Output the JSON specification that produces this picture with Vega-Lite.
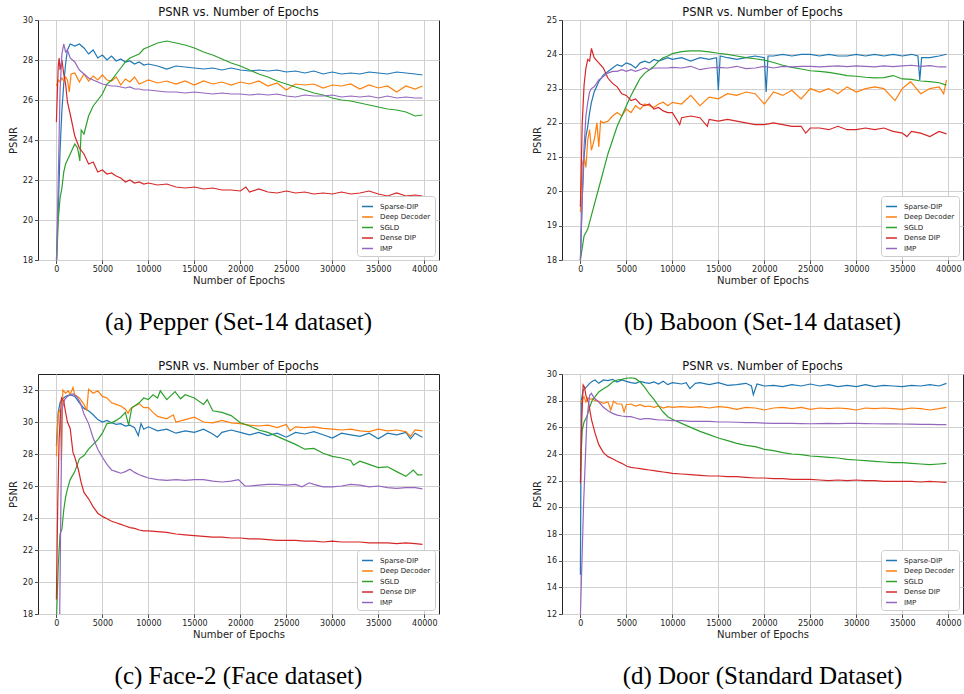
{
"$schema":"https://vega.github.io/schema/vega-lite/v6.json",
"padding":{"left":7,"top":6,"right":0,"bottom":0},
"bounds":"flush",
"columns":2,
"spacing":{"row":47,"column":123},
"resolve":{"legend":{"color":"independent"}},
"datasets":{
"pepper":[
{"method":"Sparse-DIP","epoch":0,"psnr":18},{"method":"Sparse-DIP","epoch":200,"psnr":20.5},{"method":"Sparse-DIP","epoch":400,"psnr":23.5},{"method":"Sparse-DIP","epoch":600,"psnr":25.5},{"method":"Sparse-DIP","epoch":800,"psnr":26.8},{"method":"Sparse-DIP","epoch":1000,"psnr":27.8},{"method":"Sparse-DIP","epoch":1200,"psnr":28.5},{"method":"Sparse-DIP","epoch":1500,"psnr":28.8},{"method":"Sparse-DIP","epoch":2000,"psnr":28.7},{"method":"Sparse-DIP","epoch":2500,"psnr":28.8},{"method":"Sparse-DIP","epoch":3000,"psnr":28.6},{"method":"Sparse-DIP","epoch":3500,"psnr":28.3},{"method":"Sparse-DIP","epoch":4000,"psnr":28.5},{"method":"Sparse-DIP","epoch":4500,"psnr":28.1},{"method":"Sparse-DIP","epoch":5000,"psnr":28.25},{"method":"Sparse-DIP","epoch":5500,"psnr":28.0},{"method":"Sparse-DIP","epoch":6000,"psnr":28.2},{"method":"Sparse-DIP","epoch":6500,"psnr":27.95},{"method":"Sparse-DIP","epoch":7000,"psnr":28.05},{"method":"Sparse-DIP","epoch":7500,"psnr":27.9},{"method":"Sparse-DIP","epoch":8000,"psnr":27.95},{"method":"Sparse-DIP","epoch":8500,"psnr":27.8},{"method":"Sparse-DIP","epoch":9000,"psnr":27.9},{"method":"Sparse-DIP","epoch":9500,"psnr":27.75},{"method":"Sparse-DIP","epoch":10000,"psnr":27.8},{"method":"Sparse-DIP","epoch":11000,"psnr":27.7},{"method":"Sparse-DIP","epoch":12000,"psnr":27.55},{"method":"Sparse-DIP","epoch":13000,"psnr":27.7},{"method":"Sparse-DIP","epoch":14000,"psnr":27.65},{"method":"Sparse-DIP","epoch":15000,"psnr":27.6},{"method":"Sparse-DIP","epoch":16000,"psnr":27.55},{"method":"Sparse-DIP","epoch":17000,"psnr":27.6},{"method":"Sparse-DIP","epoch":18000,"psnr":27.5},{"method":"Sparse-DIP","epoch":19000,"psnr":27.6},{"method":"Sparse-DIP","epoch":20000,"psnr":27.5},{"method":"Sparse-DIP","epoch":21000,"psnr":27.45},{"method":"Sparse-DIP","epoch":22000,"psnr":27.5},{"method":"Sparse-DIP","epoch":23000,"psnr":27.45},{"method":"Sparse-DIP","epoch":24000,"psnr":27.5},{"method":"Sparse-DIP","epoch":25000,"psnr":27.4},{"method":"Sparse-DIP","epoch":26000,"psnr":27.45},{"method":"Sparse-DIP","epoch":27000,"psnr":27.35},{"method":"Sparse-DIP","epoch":28000,"psnr":27.45},{"method":"Sparse-DIP","epoch":29000,"psnr":27.3},{"method":"Sparse-DIP","epoch":30000,"psnr":27.4},{"method":"Sparse-DIP","epoch":31000,"psnr":27.3},{"method":"Sparse-DIP","epoch":32000,"psnr":27.35},{"method":"Sparse-DIP","epoch":33000,"psnr":27.3},{"method":"Sparse-DIP","epoch":34000,"psnr":27.4},{"method":"Sparse-DIP","epoch":35000,"psnr":27.35},{"method":"Sparse-DIP","epoch":36000,"psnr":27.3},{"method":"Sparse-DIP","epoch":37000,"psnr":27.4},{"method":"Sparse-DIP","epoch":38000,"psnr":27.35},{"method":"Sparse-DIP","epoch":39000,"psnr":27.3},{"method":"Sparse-DIP","epoch":39800,"psnr":27.25},
{"method":"Deep Decoder","epoch":0,"psnr":26.7},{"method":"Deep Decoder","epoch":200,"psnr":27.0},{"method":"Deep Decoder","epoch":400,"psnr":26.9},{"method":"Deep Decoder","epoch":600,"psnr":27.1},{"method":"Deep Decoder","epoch":800,"psnr":26.95},{"method":"Deep Decoder","epoch":1000,"psnr":27.15},{"method":"Deep Decoder","epoch":1200,"psnr":27.0},{"method":"Deep Decoder","epoch":1400,"psnr":26.4},{"method":"Deep Decoder","epoch":1600,"psnr":27.3},{"method":"Deep Decoder","epoch":2000,"psnr":27.35},{"method":"Deep Decoder","epoch":2500,"psnr":26.9},{"method":"Deep Decoder","epoch":3000,"psnr":27.3},{"method":"Deep Decoder","epoch":3500,"psnr":26.95},{"method":"Deep Decoder","epoch":4000,"psnr":27.2},{"method":"Deep Decoder","epoch":4500,"psnr":27.0},{"method":"Deep Decoder","epoch":5000,"psnr":27.25},{"method":"Deep Decoder","epoch":5500,"psnr":27.0},{"method":"Deep Decoder","epoch":6000,"psnr":26.95},{"method":"Deep Decoder","epoch":6500,"psnr":27.15},{"method":"Deep Decoder","epoch":7000,"psnr":26.75},{"method":"Deep Decoder","epoch":7500,"psnr":27.05},{"method":"Deep Decoder","epoch":8000,"psnr":26.9},{"method":"Deep Decoder","epoch":8500,"psnr":27.15},{"method":"Deep Decoder","epoch":9000,"psnr":26.8},{"method":"Deep Decoder","epoch":9500,"psnr":26.9},{"method":"Deep Decoder","epoch":10000,"psnr":27.0},{"method":"Deep Decoder","epoch":11000,"psnr":26.85},{"method":"Deep Decoder","epoch":12000,"psnr":26.95},{"method":"Deep Decoder","epoch":13000,"psnr":26.8},{"method":"Deep Decoder","epoch":14000,"psnr":26.95},{"method":"Deep Decoder","epoch":15000,"psnr":26.75},{"method":"Deep Decoder","epoch":16000,"psnr":26.95},{"method":"Deep Decoder","epoch":17000,"psnr":26.8},{"method":"Deep Decoder","epoch":18000,"psnr":26.9},{"method":"Deep Decoder","epoch":19000,"psnr":26.75},{"method":"Deep Decoder","epoch":20000,"psnr":26.9},{"method":"Deep Decoder","epoch":21000,"psnr":26.8},{"method":"Deep Decoder","epoch":22000,"psnr":26.95},{"method":"Deep Decoder","epoch":23000,"psnr":26.7},{"method":"Deep Decoder","epoch":24000,"psnr":26.85},{"method":"Deep Decoder","epoch":25000,"psnr":26.5},{"method":"Deep Decoder","epoch":26000,"psnr":26.8},{"method":"Deep Decoder","epoch":27000,"psnr":26.75},{"method":"Deep Decoder","epoch":28000,"psnr":26.8},{"method":"Deep Decoder","epoch":29000,"psnr":26.6},{"method":"Deep Decoder","epoch":30000,"psnr":26.75},{"method":"Deep Decoder","epoch":31000,"psnr":26.7},{"method":"Deep Decoder","epoch":32000,"psnr":26.8},{"method":"Deep Decoder","epoch":33000,"psnr":26.55},{"method":"Deep Decoder","epoch":34000,"psnr":26.75},{"method":"Deep Decoder","epoch":35000,"psnr":26.6},{"method":"Deep Decoder","epoch":36000,"psnr":26.7},{"method":"Deep Decoder","epoch":37000,"psnr":26.4},{"method":"Deep Decoder","epoch":38000,"psnr":26.7},{"method":"Deep Decoder","epoch":39000,"psnr":26.55},{"method":"Deep Decoder","epoch":39800,"psnr":26.7},
{"method":"SGLD","epoch":0,"psnr":17.5},{"method":"SGLD","epoch":200,"psnr":20.0},{"method":"SGLD","epoch":400,"psnr":21.1},{"method":"SGLD","epoch":600,"psnr":21.6},{"method":"SGLD","epoch":800,"psnr":22.4},{"method":"SGLD","epoch":1000,"psnr":22.8},{"method":"SGLD","epoch":1200,"psnr":23.0},{"method":"SGLD","epoch":1500,"psnr":23.3},{"method":"SGLD","epoch":2000,"psnr":23.8},{"method":"SGLD","epoch":2300,"psnr":23.6},{"method":"SGLD","epoch":2550,"psnr":22.95},{"method":"SGLD","epoch":2700,"psnr":24.5},{"method":"SGLD","epoch":3000,"psnr":24.3},{"method":"SGLD","epoch":3500,"psnr":25.2},{"method":"SGLD","epoch":4000,"psnr":25.7},{"method":"SGLD","epoch":4500,"psnr":26.0},{"method":"SGLD","epoch":5000,"psnr":26.3},{"method":"SGLD","epoch":5500,"psnr":26.8},{"method":"SGLD","epoch":6000,"psnr":27.0},{"method":"SGLD","epoch":6500,"psnr":27.3},{"method":"SGLD","epoch":7000,"psnr":27.6},{"method":"SGLD","epoch":7500,"psnr":27.9},{"method":"SGLD","epoch":8000,"psnr":28.1},{"method":"SGLD","epoch":8500,"psnr":28.2},{"method":"SGLD","epoch":9000,"psnr":28.3},{"method":"SGLD","epoch":9500,"psnr":28.55},{"method":"SGLD","epoch":10000,"psnr":28.65},{"method":"SGLD","epoch":11000,"psnr":28.85},{"method":"SGLD","epoch":12000,"psnr":28.95},{"method":"SGLD","epoch":13000,"psnr":28.85},{"method":"SGLD","epoch":14000,"psnr":28.75},{"method":"SGLD","epoch":15000,"psnr":28.6},{"method":"SGLD","epoch":16000,"psnr":28.4},{"method":"SGLD","epoch":17000,"psnr":28.25},{"method":"SGLD","epoch":18000,"psnr":28.05},{"method":"SGLD","epoch":19000,"psnr":27.85},{"method":"SGLD","epoch":20000,"psnr":27.7},{"method":"SGLD","epoch":21000,"psnr":27.5},{"method":"SGLD","epoch":22000,"psnr":27.3},{"method":"SGLD","epoch":23000,"psnr":27.15},{"method":"SGLD","epoch":24000,"psnr":26.95},{"method":"SGLD","epoch":25000,"psnr":26.8},{"method":"SGLD","epoch":26000,"psnr":26.65},{"method":"SGLD","epoch":27000,"psnr":26.5},{"method":"SGLD","epoch":28000,"psnr":26.35},{"method":"SGLD","epoch":29000,"psnr":26.25},{"method":"SGLD","epoch":30000,"psnr":26.1},{"method":"SGLD","epoch":31000,"psnr":26.0},{"method":"SGLD","epoch":32000,"psnr":25.95},{"method":"SGLD","epoch":33000,"psnr":25.85},{"method":"SGLD","epoch":34000,"psnr":25.75},{"method":"SGLD","epoch":35000,"psnr":25.65},{"method":"SGLD","epoch":36000,"psnr":25.55},{"method":"SGLD","epoch":37000,"psnr":25.5},{"method":"SGLD","epoch":38000,"psnr":25.4},{"method":"SGLD","epoch":39000,"psnr":25.2},{"method":"SGLD","epoch":39800,"psnr":25.25},
{"method":"Dense DIP","epoch":0,"psnr":24.9},{"method":"Dense DIP","epoch":200,"psnr":27.7},{"method":"Dense DIP","epoch":300,"psnr":28.1},{"method":"Dense DIP","epoch":400,"psnr":27.5},{"method":"Dense DIP","epoch":600,"psnr":28.0},{"method":"Dense DIP","epoch":800,"psnr":27.3},{"method":"Dense DIP","epoch":1000,"psnr":26.8},{"method":"Dense DIP","epoch":1200,"psnr":25.9},{"method":"Dense DIP","epoch":1500,"psnr":25.3},{"method":"Dense DIP","epoch":2000,"psnr":24.2},{"method":"Dense DIP","epoch":2500,"psnr":23.6},{"method":"Dense DIP","epoch":3000,"psnr":23.3},{"method":"Dense DIP","epoch":3500,"psnr":22.8},{"method":"Dense DIP","epoch":4000,"psnr":22.9},{"method":"Dense DIP","epoch":4500,"psnr":22.4},{"method":"Dense DIP","epoch":5000,"psnr":22.5},{"method":"Dense DIP","epoch":5500,"psnr":22.3},{"method":"Dense DIP","epoch":6000,"psnr":22.35},{"method":"Dense DIP","epoch":6500,"psnr":22.2},{"method":"Dense DIP","epoch":7000,"psnr":22.1},{"method":"Dense DIP","epoch":7500,"psnr":21.9},{"method":"Dense DIP","epoch":8000,"psnr":22.0},{"method":"Dense DIP","epoch":8500,"psnr":21.85},{"method":"Dense DIP","epoch":9000,"psnr":21.9},{"method":"Dense DIP","epoch":9500,"psnr":21.8},{"method":"Dense DIP","epoch":10000,"psnr":21.85},{"method":"Dense DIP","epoch":11000,"psnr":21.75},{"method":"Dense DIP","epoch":12000,"psnr":21.8},{"method":"Dense DIP","epoch":13000,"psnr":21.65},{"method":"Dense DIP","epoch":14000,"psnr":21.6},{"method":"Dense DIP","epoch":15000,"psnr":21.65},{"method":"Dense DIP","epoch":16000,"psnr":21.55},{"method":"Dense DIP","epoch":17000,"psnr":21.6},{"method":"Dense DIP","epoch":18000,"psnr":21.5},{"method":"Dense DIP","epoch":19000,"psnr":21.5},{"method":"Dense DIP","epoch":20000,"psnr":21.45},{"method":"Dense DIP","epoch":20600,"psnr":21.65},{"method":"Dense DIP","epoch":21000,"psnr":21.4},{"method":"Dense DIP","epoch":22000,"psnr":21.55},{"method":"Dense DIP","epoch":23000,"psnr":21.4},{"method":"Dense DIP","epoch":24000,"psnr":21.35},{"method":"Dense DIP","epoch":25000,"psnr":21.45},{"method":"Dense DIP","epoch":26000,"psnr":21.35},{"method":"Dense DIP","epoch":27000,"psnr":21.4},{"method":"Dense DIP","epoch":28000,"psnr":21.3},{"method":"Dense DIP","epoch":29000,"psnr":21.35},{"method":"Dense DIP","epoch":30000,"psnr":21.3},{"method":"Dense DIP","epoch":31000,"psnr":21.4},{"method":"Dense DIP","epoch":32000,"psnr":21.3},{"method":"Dense DIP","epoch":33000,"psnr":21.35},{"method":"Dense DIP","epoch":34000,"psnr":21.45},{"method":"Dense DIP","epoch":35000,"psnr":21.3},{"method":"Dense DIP","epoch":36000,"psnr":21.2},{"method":"Dense DIP","epoch":37000,"psnr":21.35},{"method":"Dense DIP","epoch":38000,"psnr":21.2},{"method":"Dense DIP","epoch":39000,"psnr":21.25},{"method":"Dense DIP","epoch":39800,"psnr":21.2},
{"method":"IMP","epoch":0,"psnr":17.5},{"method":"IMP","epoch":200,"psnr":22.0},{"method":"IMP","epoch":400,"psnr":26.5},{"method":"IMP","epoch":600,"psnr":28.3},{"method":"IMP","epoch":800,"psnr":28.8},{"method":"IMP","epoch":1000,"psnr":28.4},{"method":"IMP","epoch":1200,"psnr":28.5},{"method":"IMP","epoch":1500,"psnr":28.1},{"method":"IMP","epoch":2000,"psnr":27.9},{"method":"IMP","epoch":2500,"psnr":27.5},{"method":"IMP","epoch":3000,"psnr":27.3},{"method":"IMP","epoch":3500,"psnr":27.1},{"method":"IMP","epoch":4000,"psnr":27.0},{"method":"IMP","epoch":4500,"psnr":26.9},{"method":"IMP","epoch":5000,"psnr":26.8},{"method":"IMP","epoch":5500,"psnr":26.75},{"method":"IMP","epoch":6000,"psnr":26.7},{"method":"IMP","epoch":6500,"psnr":26.7},{"method":"IMP","epoch":7000,"psnr":26.65},{"method":"IMP","epoch":7500,"psnr":26.6},{"method":"IMP","epoch":8000,"psnr":26.65},{"method":"IMP","epoch":8500,"psnr":26.55},{"method":"IMP","epoch":9000,"psnr":26.55},{"method":"IMP","epoch":9500,"psnr":26.5},{"method":"IMP","epoch":10000,"psnr":26.5},{"method":"IMP","epoch":11000,"psnr":26.45},{"method":"IMP","epoch":12000,"psnr":26.4},{"method":"IMP","epoch":13000,"psnr":26.4},{"method":"IMP","epoch":14000,"psnr":26.35},{"method":"IMP","epoch":15000,"psnr":26.4},{"method":"IMP","epoch":16000,"psnr":26.35},{"method":"IMP","epoch":17000,"psnr":26.3},{"method":"IMP","epoch":18000,"psnr":26.35},{"method":"IMP","epoch":19000,"psnr":26.3},{"method":"IMP","epoch":20000,"psnr":26.3},{"method":"IMP","epoch":21000,"psnr":26.25},{"method":"IMP","epoch":22000,"psnr":26.3},{"method":"IMP","epoch":23000,"psnr":26.25},{"method":"IMP","epoch":24000,"psnr":26.3},{"method":"IMP","epoch":25000,"psnr":26.2},{"method":"IMP","epoch":26000,"psnr":26.15},{"method":"IMP","epoch":27000,"psnr":26.25},{"method":"IMP","epoch":28000,"psnr":26.2},{"method":"IMP","epoch":29000,"psnr":26.2},{"method":"IMP","epoch":30000,"psnr":26.25},{"method":"IMP","epoch":31000,"psnr":26.15},{"method":"IMP","epoch":32000,"psnr":26.2},{"method":"IMP","epoch":33000,"psnr":26.15},{"method":"IMP","epoch":34000,"psnr":26.2},{"method":"IMP","epoch":35000,"psnr":26.1},{"method":"IMP","epoch":36000,"psnr":26.2},{"method":"IMP","epoch":37000,"psnr":26.1},{"method":"IMP","epoch":38000,"psnr":26.15},{"method":"IMP","epoch":39000,"psnr":26.1},{"method":"IMP","epoch":39800,"psnr":26.1}
],
"baboon":[
{"method":"Sparse-DIP","epoch":0,"psnr":18.0},{"method":"Sparse-DIP","epoch":200,"psnr":19.8},{"method":"Sparse-DIP","epoch":400,"psnr":21.0},{"method":"Sparse-DIP","epoch":600,"psnr":21.6},{"method":"Sparse-DIP","epoch":800,"psnr":21.9},{"method":"Sparse-DIP","epoch":1000,"psnr":22.3},{"method":"Sparse-DIP","epoch":1200,"psnr":22.6},{"method":"Sparse-DIP","epoch":1500,"psnr":22.9},{"method":"Sparse-DIP","epoch":2000,"psnr":23.2},{"method":"Sparse-DIP","epoch":2500,"psnr":23.4},{"method":"Sparse-DIP","epoch":3000,"psnr":23.5},{"method":"Sparse-DIP","epoch":3500,"psnr":23.6},{"method":"Sparse-DIP","epoch":4000,"psnr":23.7},{"method":"Sparse-DIP","epoch":4500,"psnr":23.65},{"method":"Sparse-DIP","epoch":5000,"psnr":23.75},{"method":"Sparse-DIP","epoch":5500,"psnr":23.7},{"method":"Sparse-DIP","epoch":6000,"psnr":23.6},{"method":"Sparse-DIP","epoch":6500,"psnr":23.75},{"method":"Sparse-DIP","epoch":7000,"psnr":23.8},{"method":"Sparse-DIP","epoch":7500,"psnr":23.75},{"method":"Sparse-DIP","epoch":8000,"psnr":23.85},{"method":"Sparse-DIP","epoch":8500,"psnr":23.8},{"method":"Sparse-DIP","epoch":9000,"psnr":23.85},{"method":"Sparse-DIP","epoch":9500,"psnr":23.9},{"method":"Sparse-DIP","epoch":10000,"psnr":23.85},{"method":"Sparse-DIP","epoch":11000,"psnr":23.9},{"method":"Sparse-DIP","epoch":12000,"psnr":23.8},{"method":"Sparse-DIP","epoch":13000,"psnr":23.9},{"method":"Sparse-DIP","epoch":14000,"psnr":23.85},{"method":"Sparse-DIP","epoch":14800,"psnr":23.9},{"method":"Sparse-DIP","epoch":15000,"psnr":22.95},{"method":"Sparse-DIP","epoch":15200,"psnr":23.95},{"method":"Sparse-DIP","epoch":16000,"psnr":23.9},{"method":"Sparse-DIP","epoch":17000,"psnr":23.85},{"method":"Sparse-DIP","epoch":18000,"psnr":23.9},{"method":"Sparse-DIP","epoch":19000,"psnr":23.95},{"method":"Sparse-DIP","epoch":20000,"psnr":23.9},{"method":"Sparse-DIP","epoch":20200,"psnr":22.9},{"method":"Sparse-DIP","epoch":20400,"psnr":23.95},{"method":"Sparse-DIP","epoch":21000,"psnr":23.95},{"method":"Sparse-DIP","epoch":22000,"psnr":24.0},{"method":"Sparse-DIP","epoch":23000,"psnr":23.95},{"method":"Sparse-DIP","epoch":24000,"psnr":24.0},{"method":"Sparse-DIP","epoch":25000,"psnr":24.0},{"method":"Sparse-DIP","epoch":26000,"psnr":23.95},{"method":"Sparse-DIP","epoch":27000,"psnr":24.0},{"method":"Sparse-DIP","epoch":28000,"psnr":23.95},{"method":"Sparse-DIP","epoch":29000,"psnr":23.95},{"method":"Sparse-DIP","epoch":30000,"psnr":24.0},{"method":"Sparse-DIP","epoch":31000,"psnr":23.95},{"method":"Sparse-DIP","epoch":32000,"psnr":24.0},{"method":"Sparse-DIP","epoch":33000,"psnr":23.95},{"method":"Sparse-DIP","epoch":34000,"psnr":24.0},{"method":"Sparse-DIP","epoch":35000,"psnr":23.95},{"method":"Sparse-DIP","epoch":36000,"psnr":24.0},{"method":"Sparse-DIP","epoch":36700,"psnr":23.95},{"method":"Sparse-DIP","epoch":36900,"psnr":23.25},{"method":"Sparse-DIP","epoch":37100,"psnr":23.9},{"method":"Sparse-DIP","epoch":38000,"psnr":23.9},{"method":"Sparse-DIP","epoch":39000,"psnr":23.95},{"method":"Sparse-DIP","epoch":39800,"psnr":24.0},
{"method":"Deep Decoder","epoch":0,"psnr":19.4},{"method":"Deep Decoder","epoch":200,"psnr":20.8},{"method":"Deep Decoder","epoch":400,"psnr":21.0},{"method":"Deep Decoder","epoch":600,"psnr":20.7},{"method":"Deep Decoder","epoch":800,"psnr":21.5},{"method":"Deep Decoder","epoch":1000,"psnr":21.8},{"method":"Deep Decoder","epoch":1200,"psnr":21.2},{"method":"Deep Decoder","epoch":1500,"psnr":21.5},{"method":"Deep Decoder","epoch":1800,"psnr":22.0},{"method":"Deep Decoder","epoch":2000,"psnr":21.3},{"method":"Deep Decoder","epoch":2200,"psnr":22.05},{"method":"Deep Decoder","epoch":2500,"psnr":22.0},{"method":"Deep Decoder","epoch":3000,"psnr":22.05},{"method":"Deep Decoder","epoch":3500,"psnr":22.2},{"method":"Deep Decoder","epoch":4000,"psnr":22.3},{"method":"Deep Decoder","epoch":4500,"psnr":22.2},{"method":"Deep Decoder","epoch":5000,"psnr":22.4},{"method":"Deep Decoder","epoch":5500,"psnr":22.3},{"method":"Deep Decoder","epoch":6000,"psnr":22.5},{"method":"Deep Decoder","epoch":6500,"psnr":22.4},{"method":"Deep Decoder","epoch":7000,"psnr":22.55},{"method":"Deep Decoder","epoch":7500,"psnr":22.5},{"method":"Deep Decoder","epoch":8000,"psnr":22.45},{"method":"Deep Decoder","epoch":8500,"psnr":22.55},{"method":"Deep Decoder","epoch":9000,"psnr":22.6},{"method":"Deep Decoder","epoch":9500,"psnr":22.5},{"method":"Deep Decoder","epoch":10000,"psnr":22.6},{"method":"Deep Decoder","epoch":11000,"psnr":22.55},{"method":"Deep Decoder","epoch":12000,"psnr":22.8},{"method":"Deep Decoder","epoch":13000,"psnr":22.5},{"method":"Deep Decoder","epoch":14000,"psnr":22.75},{"method":"Deep Decoder","epoch":15000,"psnr":22.7},{"method":"Deep Decoder","epoch":16000,"psnr":22.85},{"method":"Deep Decoder","epoch":17000,"psnr":22.8},{"method":"Deep Decoder","epoch":18000,"psnr":22.9},{"method":"Deep Decoder","epoch":19000,"psnr":22.85},{"method":"Deep Decoder","epoch":20000,"psnr":22.55},{"method":"Deep Decoder","epoch":21000,"psnr":22.9},{"method":"Deep Decoder","epoch":22000,"psnr":22.8},{"method":"Deep Decoder","epoch":23000,"psnr":22.95},{"method":"Deep Decoder","epoch":24000,"psnr":22.7},{"method":"Deep Decoder","epoch":25000,"psnr":23.0},{"method":"Deep Decoder","epoch":26000,"psnr":22.9},{"method":"Deep Decoder","epoch":27000,"psnr":23.0},{"method":"Deep Decoder","epoch":28000,"psnr":22.85},{"method":"Deep Decoder","epoch":29000,"psnr":23.05},{"method":"Deep Decoder","epoch":30000,"psnr":22.9},{"method":"Deep Decoder","epoch":31000,"psnr":23.0},{"method":"Deep Decoder","epoch":32000,"psnr":23.05},{"method":"Deep Decoder","epoch":33000,"psnr":23.0},{"method":"Deep Decoder","epoch":34200,"psnr":22.65},{"method":"Deep Decoder","epoch":35000,"psnr":23.0},{"method":"Deep Decoder","epoch":35900,"psnr":23.2},{"method":"Deep Decoder","epoch":37000,"psnr":22.85},{"method":"Deep Decoder","epoch":38000,"psnr":23.0},{"method":"Deep Decoder","epoch":39000,"psnr":23.05},{"method":"Deep Decoder","epoch":39500,"psnr":22.85},{"method":"Deep Decoder","epoch":39800,"psnr":23.25},
{"method":"SGLD","epoch":0,"psnr":18.0},{"method":"SGLD","epoch":400,"psnr":18.7},{"method":"SGLD","epoch":800,"psnr":18.9},{"method":"SGLD","epoch":1200,"psnr":19.3},{"method":"SGLD","epoch":1600,"psnr":19.7},{"method":"SGLD","epoch":2000,"psnr":20.1},{"method":"SGLD","epoch":2500,"psnr":20.6},{"method":"SGLD","epoch":3000,"psnr":21.1},{"method":"SGLD","epoch":3500,"psnr":21.5},{"method":"SGLD","epoch":4000,"psnr":21.9},{"method":"SGLD","epoch":4500,"psnr":22.2},{"method":"SGLD","epoch":5000,"psnr":22.5},{"method":"SGLD","epoch":5500,"psnr":22.8},{"method":"SGLD","epoch":6000,"psnr":23.05},{"method":"SGLD","epoch":6500,"psnr":23.3},{"method":"SGLD","epoch":7000,"psnr":23.45},{"method":"SGLD","epoch":7500,"psnr":23.55},{"method":"SGLD","epoch":8000,"psnr":23.65},{"method":"SGLD","epoch":8500,"psnr":23.8},{"method":"SGLD","epoch":9000,"psnr":23.9},{"method":"SGLD","epoch":9500,"psnr":23.95},{"method":"SGLD","epoch":10000,"psnr":24.02},{"method":"SGLD","epoch":11000,"psnr":24.08},{"method":"SGLD","epoch":12000,"psnr":24.1},{"method":"SGLD","epoch":13000,"psnr":24.1},{"method":"SGLD","epoch":14000,"psnr":24.07},{"method":"SGLD","epoch":15000,"psnr":24.03},{"method":"SGLD","epoch":16000,"psnr":24.0},{"method":"SGLD","epoch":17000,"psnr":23.95},{"method":"SGLD","epoch":18000,"psnr":23.9},{"method":"SGLD","epoch":19000,"psnr":23.87},{"method":"SGLD","epoch":20000,"psnr":23.83},{"method":"SGLD","epoch":21000,"psnr":23.76},{"method":"SGLD","epoch":22000,"psnr":23.68},{"method":"SGLD","epoch":23000,"psnr":23.62},{"method":"SGLD","epoch":24000,"psnr":23.57},{"method":"SGLD","epoch":25000,"psnr":23.52},{"method":"SGLD","epoch":26000,"psnr":23.5},{"method":"SGLD","epoch":27000,"psnr":23.47},{"method":"SGLD","epoch":28000,"psnr":23.43},{"method":"SGLD","epoch":29000,"psnr":23.38},{"method":"SGLD","epoch":30000,"psnr":23.36},{"method":"SGLD","epoch":31000,"psnr":23.33},{"method":"SGLD","epoch":32000,"psnr":23.31},{"method":"SGLD","epoch":33000,"psnr":23.32},{"method":"SGLD","epoch":34000,"psnr":23.38},{"method":"SGLD","epoch":35000,"psnr":23.28},{"method":"SGLD","epoch":36000,"psnr":23.27},{"method":"SGLD","epoch":37000,"psnr":23.22},{"method":"SGLD","epoch":38000,"psnr":23.2},{"method":"SGLD","epoch":39000,"psnr":23.17},{"method":"SGLD","epoch":39800,"psnr":23.1},
{"method":"Dense DIP","epoch":0,"psnr":19.55},{"method":"Dense DIP","epoch":200,"psnr":22.0},{"method":"Dense DIP","epoch":400,"psnr":23.1},{"method":"Dense DIP","epoch":600,"psnr":23.6},{"method":"Dense DIP","epoch":800,"psnr":23.85},{"method":"Dense DIP","epoch":1000,"psnr":23.8},{"method":"Dense DIP","epoch":1200,"psnr":24.17},{"method":"Dense DIP","epoch":1500,"psnr":23.9},{"method":"Dense DIP","epoch":2000,"psnr":23.75},{"method":"Dense DIP","epoch":2500,"psnr":23.6},{"method":"Dense DIP","epoch":3000,"psnr":23.3},{"method":"Dense DIP","epoch":3500,"psnr":23.15},{"method":"Dense DIP","epoch":4000,"psnr":23.05},{"method":"Dense DIP","epoch":4500,"psnr":22.85},{"method":"Dense DIP","epoch":5000,"psnr":22.8},{"method":"Dense DIP","epoch":5500,"psnr":22.65},{"method":"Dense DIP","epoch":6000,"psnr":22.7},{"method":"Dense DIP","epoch":6500,"psnr":22.55},{"method":"Dense DIP","epoch":7000,"psnr":22.5},{"method":"Dense DIP","epoch":7500,"psnr":22.55},{"method":"Dense DIP","epoch":8000,"psnr":22.4},{"method":"Dense DIP","epoch":8500,"psnr":22.45},{"method":"Dense DIP","epoch":9000,"psnr":22.35},{"method":"Dense DIP","epoch":9500,"psnr":22.3},{"method":"Dense DIP","epoch":10000,"psnr":22.3},{"method":"Dense DIP","epoch":10800,"psnr":21.95},{"method":"Dense DIP","epoch":11000,"psnr":22.15},{"method":"Dense DIP","epoch":12000,"psnr":22.2},{"method":"Dense DIP","epoch":13000,"psnr":22.15},{"method":"Dense DIP","epoch":13800,"psnr":21.9},{"method":"Dense DIP","epoch":14000,"psnr":22.1},{"method":"Dense DIP","epoch":15000,"psnr":22.05},{"method":"Dense DIP","epoch":16000,"psnr":22.1},{"method":"Dense DIP","epoch":17000,"psnr":22.05},{"method":"Dense DIP","epoch":18000,"psnr":22.0},{"method":"Dense DIP","epoch":19000,"psnr":21.95},{"method":"Dense DIP","epoch":20000,"psnr":21.95},{"method":"Dense DIP","epoch":21000,"psnr":22.0},{"method":"Dense DIP","epoch":22000,"psnr":21.95},{"method":"Dense DIP","epoch":23000,"psnr":21.9},{"method":"Dense DIP","epoch":24000,"psnr":21.9},{"method":"Dense DIP","epoch":24500,"psnr":21.7},{"method":"Dense DIP","epoch":25000,"psnr":21.85},{"method":"Dense DIP","epoch":26000,"psnr":21.85},{"method":"Dense DIP","epoch":27000,"psnr":21.8},{"method":"Dense DIP","epoch":28000,"psnr":21.9},{"method":"Dense DIP","epoch":29000,"psnr":21.8},{"method":"Dense DIP","epoch":30000,"psnr":21.8},{"method":"Dense DIP","epoch":31000,"psnr":21.85},{"method":"Dense DIP","epoch":32000,"psnr":21.8},{"method":"Dense DIP","epoch":33000,"psnr":21.85},{"method":"Dense DIP","epoch":34000,"psnr":21.75},{"method":"Dense DIP","epoch":35000,"psnr":21.7},{"method":"Dense DIP","epoch":35500,"psnr":21.6},{"method":"Dense DIP","epoch":36000,"psnr":21.75},{"method":"Dense DIP","epoch":37000,"psnr":21.7},{"method":"Dense DIP","epoch":38000,"psnr":21.6},{"method":"Dense DIP","epoch":39000,"psnr":21.75},{"method":"Dense DIP","epoch":39800,"psnr":21.68},
{"method":"IMP","epoch":0,"psnr":18.0},{"method":"IMP","epoch":200,"psnr":19.8},{"method":"IMP","epoch":400,"psnr":21.3},{"method":"IMP","epoch":600,"psnr":22.2},{"method":"IMP","epoch":800,"psnr":22.6},{"method":"IMP","epoch":1000,"psnr":22.9},{"method":"IMP","epoch":1200,"psnr":23.0},{"method":"IMP","epoch":1500,"psnr":23.05},{"method":"IMP","epoch":2000,"psnr":23.25},{"method":"IMP","epoch":2500,"psnr":23.35},{"method":"IMP","epoch":3000,"psnr":23.45},{"method":"IMP","epoch":3500,"psnr":23.5},{"method":"IMP","epoch":4000,"psnr":23.5},{"method":"IMP","epoch":4500,"psnr":23.55},{"method":"IMP","epoch":5000,"psnr":23.5},{"method":"IMP","epoch":5500,"psnr":23.55},{"method":"IMP","epoch":6000,"psnr":23.5},{"method":"IMP","epoch":6500,"psnr":23.55},{"method":"IMP","epoch":7000,"psnr":23.6},{"method":"IMP","epoch":7500,"psnr":23.55},{"method":"IMP","epoch":8000,"psnr":23.6},{"method":"IMP","epoch":8500,"psnr":23.6},{"method":"IMP","epoch":9000,"psnr":23.6},{"method":"IMP","epoch":9500,"psnr":23.6},{"method":"IMP","epoch":10000,"psnr":23.62},{"method":"IMP","epoch":11000,"psnr":23.6},{"method":"IMP","epoch":12000,"psnr":23.65},{"method":"IMP","epoch":13000,"psnr":23.55},{"method":"IMP","epoch":14000,"psnr":23.6},{"method":"IMP","epoch":15000,"psnr":23.62},{"method":"IMP","epoch":16000,"psnr":23.6},{"method":"IMP","epoch":17000,"psnr":23.65},{"method":"IMP","epoch":18000,"psnr":23.58},{"method":"IMP","epoch":19000,"psnr":23.6},{"method":"IMP","epoch":20000,"psnr":23.65},{"method":"IMP","epoch":21000,"psnr":23.6},{"method":"IMP","epoch":22000,"psnr":23.65},{"method":"IMP","epoch":23000,"psnr":23.63},{"method":"IMP","epoch":24000,"psnr":23.65},{"method":"IMP","epoch":25000,"psnr":23.65},{"method":"IMP","epoch":26000,"psnr":23.63},{"method":"IMP","epoch":27000,"psnr":23.65},{"method":"IMP","epoch":28000,"psnr":23.66},{"method":"IMP","epoch":29000,"psnr":23.64},{"method":"IMP","epoch":30000,"psnr":23.66},{"method":"IMP","epoch":31000,"psnr":23.65},{"method":"IMP","epoch":32000,"psnr":23.63},{"method":"IMP","epoch":33000,"psnr":23.66},{"method":"IMP","epoch":34000,"psnr":23.64},{"method":"IMP","epoch":35000,"psnr":23.66},{"method":"IMP","epoch":36000,"psnr":23.68},{"method":"IMP","epoch":37000,"psnr":23.65},{"method":"IMP","epoch":38000,"psnr":23.67},{"method":"IMP","epoch":39000,"psnr":23.63},{"method":"IMP","epoch":39800,"psnr":23.63}
],
"face":[
{"method":"Sparse-DIP","epoch":0,"psnr":28.5},{"method":"Sparse-DIP","epoch":200,"psnr":30.6},{"method":"Sparse-DIP","epoch":400,"psnr":31.2},{"method":"Sparse-DIP","epoch":600,"psnr":31.4},{"method":"Sparse-DIP","epoch":800,"psnr":31.5},{"method":"Sparse-DIP","epoch":1000,"psnr":31.6},{"method":"Sparse-DIP","epoch":1200,"psnr":31.65},{"method":"Sparse-DIP","epoch":1500,"psnr":31.7},{"method":"Sparse-DIP","epoch":2000,"psnr":31.6},{"method":"Sparse-DIP","epoch":2500,"psnr":31.2},{"method":"Sparse-DIP","epoch":3000,"psnr":30.85},{"method":"Sparse-DIP","epoch":3500,"psnr":30.7},{"method":"Sparse-DIP","epoch":4000,"psnr":30.45},{"method":"Sparse-DIP","epoch":4500,"psnr":30.15},{"method":"Sparse-DIP","epoch":5000,"psnr":30.0},{"method":"Sparse-DIP","epoch":5500,"psnr":30.1},{"method":"Sparse-DIP","epoch":6000,"psnr":29.95},{"method":"Sparse-DIP","epoch":6500,"psnr":29.85},{"method":"Sparse-DIP","epoch":7000,"psnr":29.9},{"method":"Sparse-DIP","epoch":7500,"psnr":29.75},{"method":"Sparse-DIP","epoch":8000,"psnr":29.8},{"method":"Sparse-DIP","epoch":8500,"psnr":29.65},{"method":"Sparse-DIP","epoch":8900,"psnr":29.15},{"method":"Sparse-DIP","epoch":9200,"psnr":29.9},{"method":"Sparse-DIP","epoch":9500,"psnr":29.55},{"method":"Sparse-DIP","epoch":10000,"psnr":29.7},{"method":"Sparse-DIP","epoch":11000,"psnr":29.45},{"method":"Sparse-DIP","epoch":12000,"psnr":29.55},{"method":"Sparse-DIP","epoch":13000,"psnr":29.3},{"method":"Sparse-DIP","epoch":14000,"psnr":29.45},{"method":"Sparse-DIP","epoch":15000,"psnr":29.35},{"method":"Sparse-DIP","epoch":16000,"psnr":29.55},{"method":"Sparse-DIP","epoch":17000,"psnr":29.25},{"method":"Sparse-DIP","epoch":17500,"psnr":29.05},{"method":"Sparse-DIP","epoch":18000,"psnr":29.35},{"method":"Sparse-DIP","epoch":19000,"psnr":29.5},{"method":"Sparse-DIP","epoch":20000,"psnr":29.35},{"method":"Sparse-DIP","epoch":21000,"psnr":29.2},{"method":"Sparse-DIP","epoch":22000,"psnr":29.35},{"method":"Sparse-DIP","epoch":23000,"psnr":29.15},{"method":"Sparse-DIP","epoch":24000,"psnr":29.3},{"method":"Sparse-DIP","epoch":25000,"psnr":29.05},{"method":"Sparse-DIP","epoch":26000,"psnr":29.35},{"method":"Sparse-DIP","epoch":27000,"psnr":29.25},{"method":"Sparse-DIP","epoch":28000,"psnr":29.4},{"method":"Sparse-DIP","epoch":29000,"psnr":29.2},{"method":"Sparse-DIP","epoch":30000,"psnr":29.0},{"method":"Sparse-DIP","epoch":31000,"psnr":29.3},{"method":"Sparse-DIP","epoch":32000,"psnr":29.2},{"method":"Sparse-DIP","epoch":33000,"psnr":29.1},{"method":"Sparse-DIP","epoch":34000,"psnr":29.3},{"method":"Sparse-DIP","epoch":35000,"psnr":28.95},{"method":"Sparse-DIP","epoch":36000,"psnr":29.3},{"method":"Sparse-DIP","epoch":37000,"psnr":29.2},{"method":"Sparse-DIP","epoch":38000,"psnr":29.35},{"method":"Sparse-DIP","epoch":38500,"psnr":28.95},{"method":"Sparse-DIP","epoch":39000,"psnr":29.3},{"method":"Sparse-DIP","epoch":39800,"psnr":29.05},
{"method":"Deep Decoder","epoch":0,"psnr":27.85},{"method":"Deep Decoder","epoch":200,"psnr":30.55},{"method":"Deep Decoder","epoch":400,"psnr":30.8},{"method":"Deep Decoder","epoch":550,"psnr":27.6},{"method":"Deep Decoder","epoch":700,"psnr":32.0},{"method":"Deep Decoder","epoch":1000,"psnr":31.8},{"method":"Deep Decoder","epoch":1300,"psnr":31.95},{"method":"Deep Decoder","epoch":1500,"psnr":31.7},{"method":"Deep Decoder","epoch":1800,"psnr":32.15},{"method":"Deep Decoder","epoch":2000,"psnr":31.7},{"method":"Deep Decoder","epoch":2500,"psnr":31.5},{"method":"Deep Decoder","epoch":3000,"psnr":31.1},{"method":"Deep Decoder","epoch":3300,"psnr":30.7},{"method":"Deep Decoder","epoch":3500,"psnr":32.05},{"method":"Deep Decoder","epoch":4000,"psnr":31.8},{"method":"Deep Decoder","epoch":4500,"psnr":31.95},{"method":"Deep Decoder","epoch":5000,"psnr":31.6},{"method":"Deep Decoder","epoch":5500,"psnr":31.5},{"method":"Deep Decoder","epoch":6000,"psnr":31.2},{"method":"Deep Decoder","epoch":6500,"psnr":31.1},{"method":"Deep Decoder","epoch":7000,"psnr":31.0},{"method":"Deep Decoder","epoch":7500,"psnr":30.8},{"method":"Deep Decoder","epoch":7800,"psnr":30.55},{"method":"Deep Decoder","epoch":8000,"psnr":30.8},{"method":"Deep Decoder","epoch":8500,"psnr":31.0},{"method":"Deep Decoder","epoch":9000,"psnr":31.15},{"method":"Deep Decoder","epoch":9500,"psnr":30.9},{"method":"Deep Decoder","epoch":10000,"psnr":30.9},{"method":"Deep Decoder","epoch":10500,"psnr":30.6},{"method":"Deep Decoder","epoch":11000,"psnr":30.35},{"method":"Deep Decoder","epoch":12000,"psnr":30.2},{"method":"Deep Decoder","epoch":12700,"psnr":30.45},{"method":"Deep Decoder","epoch":13000,"psnr":30.0},{"method":"Deep Decoder","epoch":14000,"psnr":30.15},{"method":"Deep Decoder","epoch":15000,"psnr":30.3},{"method":"Deep Decoder","epoch":16000,"psnr":30.0},{"method":"Deep Decoder","epoch":17000,"psnr":29.95},{"method":"Deep Decoder","epoch":18000,"psnr":30.1},{"method":"Deep Decoder","epoch":19000,"psnr":29.95},{"method":"Deep Decoder","epoch":20000,"psnr":29.9},{"method":"Deep Decoder","epoch":21000,"psnr":29.8},{"method":"Deep Decoder","epoch":22000,"psnr":29.75},{"method":"Deep Decoder","epoch":23000,"psnr":29.8},{"method":"Deep Decoder","epoch":24000,"psnr":29.65},{"method":"Deep Decoder","epoch":25000,"psnr":29.85},{"method":"Deep Decoder","epoch":25400,"psnr":29.45},{"method":"Deep Decoder","epoch":26000,"psnr":29.7},{"method":"Deep Decoder","epoch":27000,"psnr":29.65},{"method":"Deep Decoder","epoch":28000,"psnr":29.7},{"method":"Deep Decoder","epoch":29000,"psnr":29.6},{"method":"Deep Decoder","epoch":30000,"psnr":29.55},{"method":"Deep Decoder","epoch":31000,"psnr":29.5},{"method":"Deep Decoder","epoch":32000,"psnr":29.55},{"method":"Deep Decoder","epoch":33000,"psnr":29.45},{"method":"Deep Decoder","epoch":34000,"psnr":29.4},{"method":"Deep Decoder","epoch":35000,"psnr":29.55},{"method":"Deep Decoder","epoch":36000,"psnr":29.45},{"method":"Deep Decoder","epoch":37000,"psnr":29.5},{"method":"Deep Decoder","epoch":38000,"psnr":29.4},{"method":"Deep Decoder","epoch":38500,"psnr":29.1},{"method":"Deep Decoder","epoch":39000,"psnr":29.5},{"method":"Deep Decoder","epoch":39800,"psnr":29.45},
{"method":"SGLD","epoch":0,"psnr":17.5},{"method":"SGLD","epoch":200,"psnr":21.0},{"method":"SGLD","epoch":400,"psnr":23.0},{"method":"SGLD","epoch":600,"psnr":23.3},{"method":"SGLD","epoch":800,"psnr":24.5},{"method":"SGLD","epoch":1000,"psnr":25.3},{"method":"SGLD","epoch":1200,"psnr":25.8},{"method":"SGLD","epoch":1500,"psnr":26.4},{"method":"SGLD","epoch":2000,"psnr":26.9},{"method":"SGLD","epoch":2500,"psnr":27.7},{"method":"SGLD","epoch":3000,"psnr":27.9},{"method":"SGLD","epoch":3500,"psnr":28.3},{"method":"SGLD","epoch":4000,"psnr":28.6},{"method":"SGLD","epoch":4500,"psnr":28.9},{"method":"SGLD","epoch":5000,"psnr":29.3},{"method":"SGLD","epoch":5500,"psnr":29.9},{"method":"SGLD","epoch":6000,"psnr":29.95},{"method":"SGLD","epoch":6500,"psnr":30.1},{"method":"SGLD","epoch":7000,"psnr":30.3},{"method":"SGLD","epoch":7500,"psnr":30.6},{"method":"SGLD","epoch":7850,"psnr":29.8},{"method":"SGLD","epoch":8200,"psnr":30.9},{"method":"SGLD","epoch":8500,"psnr":31.0},{"method":"SGLD","epoch":9000,"psnr":31.2},{"method":"SGLD","epoch":9500,"psnr":31.5},{"method":"SGLD","epoch":10000,"psnr":31.4},{"method":"SGLD","epoch":10500,"psnr":31.7},{"method":"SGLD","epoch":11000,"psnr":31.5},{"method":"SGLD","epoch":11300,"psnr":31.95},{"method":"SGLD","epoch":12000,"psnr":31.4},{"method":"SGLD","epoch":12900,"psnr":31.9},{"method":"SGLD","epoch":13500,"psnr":31.45},{"method":"SGLD","epoch":14000,"psnr":31.7},{"method":"SGLD","epoch":15000,"psnr":31.5},{"method":"SGLD","epoch":16000,"psnr":31.1},{"method":"SGLD","epoch":16400,"psnr":31.4},{"method":"SGLD","epoch":17000,"psnr":30.7},{"method":"SGLD","epoch":18000,"psnr":30.6},{"method":"SGLD","epoch":19000,"psnr":30.4},{"method":"SGLD","epoch":20000,"psnr":29.95},{"method":"SGLD","epoch":21000,"psnr":29.75},{"method":"SGLD","epoch":22000,"psnr":29.5},{"method":"SGLD","epoch":23000,"psnr":29.35},{"method":"SGLD","epoch":24000,"psnr":29.1},{"method":"SGLD","epoch":25000,"psnr":28.85},{"method":"SGLD","epoch":26000,"psnr":28.6},{"method":"SGLD","epoch":27000,"psnr":28.3},{"method":"SGLD","epoch":28000,"psnr":28.35},{"method":"SGLD","epoch":29000,"psnr":28.05},{"method":"SGLD","epoch":30000,"psnr":27.85},{"method":"SGLD","epoch":31000,"psnr":27.75},{"method":"SGLD","epoch":32000,"psnr":27.6},{"method":"SGLD","epoch":32300,"psnr":27.3},{"method":"SGLD","epoch":33000,"psnr":27.55},{"method":"SGLD","epoch":34000,"psnr":27.35},{"method":"SGLD","epoch":35000,"psnr":27.15},{"method":"SGLD","epoch":36000,"psnr":27.2},{"method":"SGLD","epoch":37000,"psnr":26.9},{"method":"SGLD","epoch":38000,"psnr":26.6},{"method":"SGLD","epoch":38800,"psnr":27.0},{"method":"SGLD","epoch":39300,"psnr":26.7},{"method":"SGLD","epoch":39800,"psnr":26.7},
{"method":"Dense DIP","epoch":0,"psnr":18.9},{"method":"Dense DIP","epoch":150,"psnr":25.0},{"method":"Dense DIP","epoch":300,"psnr":29.0},{"method":"Dense DIP","epoch":550,"psnr":31.5},{"method":"Dense DIP","epoch":800,"psnr":31.3},{"method":"Dense DIP","epoch":1000,"psnr":30.6},{"method":"Dense DIP","epoch":1200,"psnr":30.0},{"method":"Dense DIP","epoch":1500,"psnr":29.6},{"method":"Dense DIP","epoch":1800,"psnr":28.1},{"method":"Dense DIP","epoch":2000,"psnr":27.8},{"method":"Dense DIP","epoch":2400,"psnr":27.0},{"method":"Dense DIP","epoch":2700,"psnr":26.2},{"method":"Dense DIP","epoch":3000,"psnr":25.6},{"method":"Dense DIP","epoch":3500,"psnr":25.2},{"method":"Dense DIP","epoch":4000,"psnr":24.7},{"method":"Dense DIP","epoch":4500,"psnr":24.3},{"method":"Dense DIP","epoch":5000,"psnr":24.1},{"method":"Dense DIP","epoch":5500,"psnr":23.95},{"method":"Dense DIP","epoch":6000,"psnr":23.8},{"method":"Dense DIP","epoch":6500,"psnr":23.7},{"method":"Dense DIP","epoch":7000,"psnr":23.6},{"method":"Dense DIP","epoch":7500,"psnr":23.5},{"method":"Dense DIP","epoch":8000,"psnr":23.4},{"method":"Dense DIP","epoch":8500,"psnr":23.35},{"method":"Dense DIP","epoch":9000,"psnr":23.25},{"method":"Dense DIP","epoch":9500,"psnr":23.2},{"method":"Dense DIP","epoch":10000,"psnr":23.2},{"method":"Dense DIP","epoch":11000,"psnr":23.15},{"method":"Dense DIP","epoch":12000,"psnr":23.1},{"method":"Dense DIP","epoch":13000,"psnr":23.0},{"method":"Dense DIP","epoch":14000,"psnr":22.95},{"method":"Dense DIP","epoch":15000,"psnr":22.9},{"method":"Dense DIP","epoch":16000,"psnr":22.85},{"method":"Dense DIP","epoch":17000,"psnr":22.8},{"method":"Dense DIP","epoch":18000,"psnr":22.8},{"method":"Dense DIP","epoch":19000,"psnr":22.75},{"method":"Dense DIP","epoch":20000,"psnr":22.75},{"method":"Dense DIP","epoch":21000,"psnr":22.7},{"method":"Dense DIP","epoch":22000,"psnr":22.7},{"method":"Dense DIP","epoch":23000,"psnr":22.65},{"method":"Dense DIP","epoch":24000,"psnr":22.6},{"method":"Dense DIP","epoch":25000,"psnr":22.6},{"method":"Dense DIP","epoch":26000,"psnr":22.6},{"method":"Dense DIP","epoch":27000,"psnr":22.55},{"method":"Dense DIP","epoch":28000,"psnr":22.55},{"method":"Dense DIP","epoch":29000,"psnr":22.5},{"method":"Dense DIP","epoch":30000,"psnr":22.55},{"method":"Dense DIP","epoch":31000,"psnr":22.5},{"method":"Dense DIP","epoch":32000,"psnr":22.5},{"method":"Dense DIP","epoch":33000,"psnr":22.5},{"method":"Dense DIP","epoch":34000,"psnr":22.45},{"method":"Dense DIP","epoch":35000,"psnr":22.45},{"method":"Dense DIP","epoch":36000,"psnr":22.45},{"method":"Dense DIP","epoch":37000,"psnr":22.4},{"method":"Dense DIP","epoch":38000,"psnr":22.45},{"method":"Dense DIP","epoch":39000,"psnr":22.4},{"method":"Dense DIP","epoch":39800,"psnr":22.35},
{"method":"IMP","epoch":350,"psnr":17.5},{"method":"IMP","epoch":600,"psnr":30.8},{"method":"IMP","epoch":900,"psnr":31.4},{"method":"IMP","epoch":1200,"psnr":31.6},{"method":"IMP","epoch":1500,"psnr":31.7},{"method":"IMP","epoch":1800,"psnr":31.75},{"method":"IMP","epoch":2200,"psnr":31.6},{"method":"IMP","epoch":2600,"psnr":31.2},{"method":"IMP","epoch":3000,"psnr":30.5},{"method":"IMP","epoch":3500,"psnr":29.9},{"method":"IMP","epoch":4000,"psnr":29.0},{"method":"IMP","epoch":4500,"psnr":28.3},{"method":"IMP","epoch":5000,"psnr":27.8},{"method":"IMP","epoch":5500,"psnr":27.35},{"method":"IMP","epoch":6000,"psnr":27.0},{"method":"IMP","epoch":6500,"psnr":26.9},{"method":"IMP","epoch":7000,"psnr":26.8},{"method":"IMP","epoch":7500,"psnr":26.9},{"method":"IMP","epoch":8000,"psnr":27.05},{"method":"IMP","epoch":8500,"psnr":26.85},{"method":"IMP","epoch":9000,"psnr":26.7},{"method":"IMP","epoch":9500,"psnr":26.6},{"method":"IMP","epoch":10000,"psnr":26.5},{"method":"IMP","epoch":11000,"psnr":26.4},{"method":"IMP","epoch":12000,"psnr":26.35},{"method":"IMP","epoch":13000,"psnr":26.4},{"method":"IMP","epoch":14000,"psnr":26.35},{"method":"IMP","epoch":15000,"psnr":26.4},{"method":"IMP","epoch":16000,"psnr":26.4},{"method":"IMP","epoch":17000,"psnr":26.3},{"method":"IMP","epoch":18000,"psnr":26.25},{"method":"IMP","epoch":19000,"psnr":26.3},{"method":"IMP","epoch":19800,"psnr":26.4},{"method":"IMP","epoch":20500,"psnr":26.0},{"method":"IMP","epoch":21000,"psnr":26.0},{"method":"IMP","epoch":22000,"psnr":26.05},{"method":"IMP","epoch":23000,"psnr":26.1},{"method":"IMP","epoch":24000,"psnr":26.1},{"method":"IMP","epoch":25000,"psnr":26.05},{"method":"IMP","epoch":26000,"psnr":26.1},{"method":"IMP","epoch":26700,"psnr":25.95},{"method":"IMP","epoch":27500,"psnr":26.2},{"method":"IMP","epoch":28000,"psnr":26.1},{"method":"IMP","epoch":29000,"psnr":25.95},{"method":"IMP","epoch":30000,"psnr":25.95},{"method":"IMP","epoch":31000,"psnr":26.0},{"method":"IMP","epoch":32000,"psnr":26.1},{"method":"IMP","epoch":33000,"psnr":26.05},{"method":"IMP","epoch":34000,"psnr":25.95},{"method":"IMP","epoch":35000,"psnr":26.0},{"method":"IMP","epoch":36000,"psnr":25.9},{"method":"IMP","epoch":37000,"psnr":25.85},{"method":"IMP","epoch":38000,"psnr":25.9},{"method":"IMP","epoch":39000,"psnr":25.9},{"method":"IMP","epoch":39800,"psnr":25.82}
],
"door":[
{"method":"Sparse-DIP","epoch":0,"psnr":14.95},{"method":"Sparse-DIP","epoch":100,"psnr":28.0},{"method":"Sparse-DIP","epoch":300,"psnr":28.8},{"method":"Sparse-DIP","epoch":700,"psnr":29.05},{"method":"Sparse-DIP","epoch":1000,"psnr":29.3},{"method":"Sparse-DIP","epoch":1300,"psnr":29.45},{"method":"Sparse-DIP","epoch":1600,"psnr":29.55},{"method":"Sparse-DIP","epoch":2000,"psnr":29.3},{"method":"Sparse-DIP","epoch":2500,"psnr":29.55},{"method":"Sparse-DIP","epoch":3000,"psnr":29.5},{"method":"Sparse-DIP","epoch":3500,"psnr":29.6},{"method":"Sparse-DIP","epoch":4000,"psnr":29.4},{"method":"Sparse-DIP","epoch":4500,"psnr":29.55},{"method":"Sparse-DIP","epoch":5000,"psnr":29.45},{"method":"Sparse-DIP","epoch":5500,"psnr":29.35},{"method":"Sparse-DIP","epoch":6000,"psnr":29.3},{"method":"Sparse-DIP","epoch":6500,"psnr":29.45},{"method":"Sparse-DIP","epoch":7000,"psnr":29.35},{"method":"Sparse-DIP","epoch":7500,"psnr":29.3},{"method":"Sparse-DIP","epoch":8000,"psnr":29.4},{"method":"Sparse-DIP","epoch":8500,"psnr":29.25},{"method":"Sparse-DIP","epoch":9000,"psnr":29.45},{"method":"Sparse-DIP","epoch":9500,"psnr":29.2},{"method":"Sparse-DIP","epoch":10000,"psnr":29.35},{"method":"Sparse-DIP","epoch":11000,"psnr":29.25},{"method":"Sparse-DIP","epoch":11500,"psnr":29.35},{"method":"Sparse-DIP","epoch":11900,"psnr":28.9},{"method":"Sparse-DIP","epoch":12500,"psnr":29.3},{"method":"Sparse-DIP","epoch":13000,"psnr":29.35},{"method":"Sparse-DIP","epoch":14000,"psnr":29.2},{"method":"Sparse-DIP","epoch":15000,"psnr":29.35},{"method":"Sparse-DIP","epoch":16000,"psnr":29.15},{"method":"Sparse-DIP","epoch":17000,"psnr":29.2},{"method":"Sparse-DIP","epoch":18000,"psnr":29.3},{"method":"Sparse-DIP","epoch":18600,"psnr":29.1},{"method":"Sparse-DIP","epoch":18800,"psnr":28.45},{"method":"Sparse-DIP","epoch":19200,"psnr":29.25},{"method":"Sparse-DIP","epoch":20000,"psnr":29.1},{"method":"Sparse-DIP","epoch":21000,"psnr":29.15},{"method":"Sparse-DIP","epoch":22000,"psnr":29.05},{"method":"Sparse-DIP","epoch":23000,"psnr":29.2},{"method":"Sparse-DIP","epoch":24000,"psnr":29.1},{"method":"Sparse-DIP","epoch":25000,"psnr":29.25},{"method":"Sparse-DIP","epoch":26000,"psnr":29.1},{"method":"Sparse-DIP","epoch":27000,"psnr":29.2},{"method":"Sparse-DIP","epoch":28000,"psnr":29.05},{"method":"Sparse-DIP","epoch":29000,"psnr":29.15},{"method":"Sparse-DIP","epoch":30000,"psnr":29.05},{"method":"Sparse-DIP","epoch":31000,"psnr":29.2},{"method":"Sparse-DIP","epoch":32000,"psnr":29.05},{"method":"Sparse-DIP","epoch":33000,"psnr":29.15},{"method":"Sparse-DIP","epoch":34000,"psnr":29.1},{"method":"Sparse-DIP","epoch":35000,"psnr":29.05},{"method":"Sparse-DIP","epoch":36000,"psnr":29.15},{"method":"Sparse-DIP","epoch":37000,"psnr":29.1},{"method":"Sparse-DIP","epoch":38000,"psnr":29.2},{"method":"Sparse-DIP","epoch":39000,"psnr":29.1},{"method":"Sparse-DIP","epoch":39800,"psnr":29.3},
{"method":"Deep Decoder","epoch":0,"psnr":27.8},{"method":"Deep Decoder","epoch":200,"psnr":28.05},{"method":"Deep Decoder","epoch":400,"psnr":28.3},{"method":"Deep Decoder","epoch":600,"psnr":27.9},{"method":"Deep Decoder","epoch":800,"psnr":28.2},{"method":"Deep Decoder","epoch":1000,"psnr":28.1},{"method":"Deep Decoder","epoch":1300,"psnr":28.15},{"method":"Deep Decoder","epoch":1600,"psnr":28.0},{"method":"Deep Decoder","epoch":2000,"psnr":27.95},{"method":"Deep Decoder","epoch":2500,"psnr":27.8},{"method":"Deep Decoder","epoch":3000,"psnr":27.9},{"method":"Deep Decoder","epoch":3300,"psnr":27.3},{"method":"Deep Decoder","epoch":3600,"psnr":27.95},{"method":"Deep Decoder","epoch":4000,"psnr":27.75},{"method":"Deep Decoder","epoch":4500,"psnr":27.75},{"method":"Deep Decoder","epoch":4750,"psnr":27.15},{"method":"Deep Decoder","epoch":5000,"psnr":27.7},{"method":"Deep Decoder","epoch":5500,"psnr":27.75},{"method":"Deep Decoder","epoch":6000,"psnr":27.6},{"method":"Deep Decoder","epoch":6500,"psnr":27.7},{"method":"Deep Decoder","epoch":7000,"psnr":27.55},{"method":"Deep Decoder","epoch":7500,"psnr":27.6},{"method":"Deep Decoder","epoch":8000,"psnr":27.5},{"method":"Deep Decoder","epoch":8500,"psnr":27.6},{"method":"Deep Decoder","epoch":9000,"psnr":27.45},{"method":"Deep Decoder","epoch":9500,"psnr":27.55},{"method":"Deep Decoder","epoch":10000,"psnr":27.5},{"method":"Deep Decoder","epoch":11000,"psnr":27.55},{"method":"Deep Decoder","epoch":12000,"psnr":27.5},{"method":"Deep Decoder","epoch":13000,"psnr":27.55},{"method":"Deep Decoder","epoch":14000,"psnr":27.45},{"method":"Deep Decoder","epoch":15000,"psnr":27.55},{"method":"Deep Decoder","epoch":16000,"psnr":27.5},{"method":"Deep Decoder","epoch":17000,"psnr":27.35},{"method":"Deep Decoder","epoch":18000,"psnr":27.5},{"method":"Deep Decoder","epoch":19000,"psnr":27.45},{"method":"Deep Decoder","epoch":20000,"psnr":27.3},{"method":"Deep Decoder","epoch":21000,"psnr":27.45},{"method":"Deep Decoder","epoch":22000,"psnr":27.5},{"method":"Deep Decoder","epoch":23000,"psnr":27.4},{"method":"Deep Decoder","epoch":24000,"psnr":27.5},{"method":"Deep Decoder","epoch":25000,"psnr":27.35},{"method":"Deep Decoder","epoch":26000,"psnr":27.45},{"method":"Deep Decoder","epoch":27000,"psnr":27.4},{"method":"Deep Decoder","epoch":28000,"psnr":27.45},{"method":"Deep Decoder","epoch":29000,"psnr":27.4},{"method":"Deep Decoder","epoch":30000,"psnr":27.3},{"method":"Deep Decoder","epoch":31000,"psnr":27.45},{"method":"Deep Decoder","epoch":32000,"psnr":27.4},{"method":"Deep Decoder","epoch":33000,"psnr":27.45},{"method":"Deep Decoder","epoch":34000,"psnr":27.4},{"method":"Deep Decoder","epoch":35000,"psnr":27.35},{"method":"Deep Decoder","epoch":36000,"psnr":27.45},{"method":"Deep Decoder","epoch":37000,"psnr":27.4},{"method":"Deep Decoder","epoch":38000,"psnr":27.3},{"method":"Deep Decoder","epoch":39000,"psnr":27.4},{"method":"Deep Decoder","epoch":39800,"psnr":27.5},
{"method":"SGLD","epoch":0,"psnr":22.7},{"method":"SGLD","epoch":200,"psnr":25.8},{"method":"SGLD","epoch":400,"psnr":26.4},{"method":"SGLD","epoch":700,"psnr":26.8},{"method":"SGLD","epoch":1000,"psnr":27.5},{"method":"SGLD","epoch":1300,"psnr":28.05},{"method":"SGLD","epoch":1600,"psnr":28.3},{"method":"SGLD","epoch":2000,"psnr":28.65},{"method":"SGLD","epoch":2500,"psnr":28.9},{"method":"SGLD","epoch":3000,"psnr":29.1},{"method":"SGLD","epoch":3500,"psnr":29.4},{"method":"SGLD","epoch":4000,"psnr":29.55},{"method":"SGLD","epoch":4500,"psnr":29.6},{"method":"SGLD","epoch":5000,"psnr":29.68},{"method":"SGLD","epoch":5500,"psnr":29.72},{"method":"SGLD","epoch":6000,"psnr":29.65},{"method":"SGLD","epoch":6500,"psnr":29.4},{"method":"SGLD","epoch":7000,"psnr":29.0},{"method":"SGLD","epoch":7500,"psnr":28.5},{"method":"SGLD","epoch":8000,"psnr":28.1},{"method":"SGLD","epoch":8500,"psnr":27.6},{"method":"SGLD","epoch":9000,"psnr":27.15},{"method":"SGLD","epoch":9500,"psnr":26.8},{"method":"SGLD","epoch":10000,"psnr":26.6},{"method":"SGLD","epoch":11000,"psnr":26.3},{"method":"SGLD","epoch":12000,"psnr":26.0},{"method":"SGLD","epoch":13000,"psnr":25.7},{"method":"SGLD","epoch":14000,"psnr":25.45},{"method":"SGLD","epoch":15000,"psnr":25.2},{"method":"SGLD","epoch":16000,"psnr":25.0},{"method":"SGLD","epoch":17000,"psnr":24.8},{"method":"SGLD","epoch":18000,"psnr":24.65},{"method":"SGLD","epoch":19000,"psnr":24.55},{"method":"SGLD","epoch":20000,"psnr":24.35},{"method":"SGLD","epoch":21000,"psnr":24.25},{"method":"SGLD","epoch":22000,"psnr":24.1},{"method":"SGLD","epoch":23000,"psnr":24.0},{"method":"SGLD","epoch":24000,"psnr":23.95},{"method":"SGLD","epoch":25000,"psnr":23.85},{"method":"SGLD","epoch":26000,"psnr":23.8},{"method":"SGLD","epoch":27000,"psnr":23.75},{"method":"SGLD","epoch":28000,"psnr":23.7},{"method":"SGLD","epoch":29000,"psnr":23.6},{"method":"SGLD","epoch":30000,"psnr":23.55},{"method":"SGLD","epoch":31000,"psnr":23.5},{"method":"SGLD","epoch":32000,"psnr":23.45},{"method":"SGLD","epoch":33000,"psnr":23.4},{"method":"SGLD","epoch":34000,"psnr":23.35},{"method":"SGLD","epoch":35000,"psnr":23.35},{"method":"SGLD","epoch":36000,"psnr":23.3},{"method":"SGLD","epoch":37000,"psnr":23.25},{"method":"SGLD","epoch":38000,"psnr":23.2},{"method":"SGLD","epoch":39000,"psnr":23.25},{"method":"SGLD","epoch":39800,"psnr":23.3},
{"method":"Dense DIP","epoch":0,"psnr":21.8},{"method":"Dense DIP","epoch":150,"psnr":26.5},{"method":"Dense DIP","epoch":300,"psnr":29.17},{"method":"Dense DIP","epoch":450,"psnr":29.0},{"method":"Dense DIP","epoch":600,"psnr":28.4},{"method":"Dense DIP","epoch":900,"psnr":27.8},{"method":"Dense DIP","epoch":1200,"psnr":26.6},{"method":"Dense DIP","epoch":1600,"psnr":25.55},{"method":"Dense DIP","epoch":2000,"psnr":24.7},{"method":"Dense DIP","epoch":2500,"psnr":24.1},{"method":"Dense DIP","epoch":3000,"psnr":23.8},{"method":"Dense DIP","epoch":3500,"psnr":23.65},{"method":"Dense DIP","epoch":4000,"psnr":23.45},{"method":"Dense DIP","epoch":4500,"psnr":23.3},{"method":"Dense DIP","epoch":5000,"psnr":23.1},{"method":"Dense DIP","epoch":5500,"psnr":23.0},{"method":"Dense DIP","epoch":6000,"psnr":22.95},{"method":"Dense DIP","epoch":6500,"psnr":22.9},{"method":"Dense DIP","epoch":7000,"psnr":22.85},{"method":"Dense DIP","epoch":7500,"psnr":22.8},{"method":"Dense DIP","epoch":8000,"psnr":22.75},{"method":"Dense DIP","epoch":8500,"psnr":22.7},{"method":"Dense DIP","epoch":9000,"psnr":22.65},{"method":"Dense DIP","epoch":9500,"psnr":22.6},{"method":"Dense DIP","epoch":10000,"psnr":22.55},{"method":"Dense DIP","epoch":11000,"psnr":22.5},{"method":"Dense DIP","epoch":12000,"psnr":22.45},{"method":"Dense DIP","epoch":13000,"psnr":22.4},{"method":"Dense DIP","epoch":14000,"psnr":22.35},{"method":"Dense DIP","epoch":15000,"psnr":22.35},{"method":"Dense DIP","epoch":16000,"psnr":22.3},{"method":"Dense DIP","epoch":17000,"psnr":22.3},{"method":"Dense DIP","epoch":18000,"psnr":22.25},{"method":"Dense DIP","epoch":19000,"psnr":22.2},{"method":"Dense DIP","epoch":20000,"psnr":22.2},{"method":"Dense DIP","epoch":21000,"psnr":22.15},{"method":"Dense DIP","epoch":22000,"psnr":22.15},{"method":"Dense DIP","epoch":23000,"psnr":22.1},{"method":"Dense DIP","epoch":24000,"psnr":22.1},{"method":"Dense DIP","epoch":25000,"psnr":22.1},{"method":"Dense DIP","epoch":26000,"psnr":22.05},{"method":"Dense DIP","epoch":27000,"psnr":22.0},{"method":"Dense DIP","epoch":28000,"psnr":22.05},{"method":"Dense DIP","epoch":29000,"psnr":22.0},{"method":"Dense DIP","epoch":30000,"psnr":22.05},{"method":"Dense DIP","epoch":31000,"psnr":22.0},{"method":"Dense DIP","epoch":32000,"psnr":22.0},{"method":"Dense DIP","epoch":33000,"psnr":21.95},{"method":"Dense DIP","epoch":34000,"psnr":21.95},{"method":"Dense DIP","epoch":35000,"psnr":21.95},{"method":"Dense DIP","epoch":36000,"psnr":21.95},{"method":"Dense DIP","epoch":37000,"psnr":21.9},{"method":"Dense DIP","epoch":38000,"psnr":21.95},{"method":"Dense DIP","epoch":39000,"psnr":21.9},{"method":"Dense DIP","epoch":39800,"psnr":21.87},
{"method":"IMP","epoch":0,"psnr":11.9},{"method":"IMP","epoch":350,"psnr":20.3},{"method":"IMP","epoch":700,"psnr":26.5},{"method":"IMP","epoch":1000,"psnr":28.4},{"method":"IMP","epoch":1200,"psnr":28.55},{"method":"IMP","epoch":1500,"psnr":28.2},{"method":"IMP","epoch":2000,"psnr":27.9},{"method":"IMP","epoch":2500,"psnr":27.5},{"method":"IMP","epoch":3000,"psnr":27.25},{"method":"IMP","epoch":3500,"psnr":27.05},{"method":"IMP","epoch":4000,"psnr":26.92},{"method":"IMP","epoch":4500,"psnr":26.85},{"method":"IMP","epoch":5000,"psnr":26.8},{"method":"IMP","epoch":5500,"psnr":26.8},{"method":"IMP","epoch":6000,"psnr":26.7},{"method":"IMP","epoch":6500,"psnr":26.6},{"method":"IMP","epoch":7000,"psnr":26.65},{"method":"IMP","epoch":7500,"psnr":26.65},{"method":"IMP","epoch":8000,"psnr":26.6},{"method":"IMP","epoch":8500,"psnr":26.55},{"method":"IMP","epoch":9000,"psnr":26.55},{"method":"IMP","epoch":10000,"psnr":26.5},{"method":"IMP","epoch":11000,"psnr":26.5},{"method":"IMP","epoch":12000,"psnr":26.45},{"method":"IMP","epoch":13000,"psnr":26.45},{"method":"IMP","epoch":14000,"psnr":26.45},{"method":"IMP","epoch":15000,"psnr":26.4},{"method":"IMP","epoch":16000,"psnr":26.4},{"method":"IMP","epoch":17000,"psnr":26.38},{"method":"IMP","epoch":18000,"psnr":26.35},{"method":"IMP","epoch":19000,"psnr":26.35},{"method":"IMP","epoch":20000,"psnr":26.32},{"method":"IMP","epoch":21000,"psnr":26.3},{"method":"IMP","epoch":22000,"psnr":26.3},{"method":"IMP","epoch":23000,"psnr":26.3},{"method":"IMP","epoch":24000,"psnr":26.28},{"method":"IMP","epoch":25000,"psnr":26.27},{"method":"IMP","epoch":26000,"psnr":26.28},{"method":"IMP","epoch":27000,"psnr":26.3},{"method":"IMP","epoch":28000,"psnr":26.28},{"method":"IMP","epoch":29000,"psnr":26.3},{"method":"IMP","epoch":30000,"psnr":26.3},{"method":"IMP","epoch":31000,"psnr":26.28},{"method":"IMP","epoch":32000,"psnr":26.27},{"method":"IMP","epoch":33000,"psnr":26.26},{"method":"IMP","epoch":34000,"psnr":26.26},{"method":"IMP","epoch":35000,"psnr":26.25},{"method":"IMP","epoch":36000,"psnr":26.24},{"method":"IMP","epoch":37000,"psnr":26.22},{"method":"IMP","epoch":38000,"psnr":26.22},{"method":"IMP","epoch":39000,"psnr":26.2},{"method":"IMP","epoch":39800,"psnr":26.2}
]
},
"concat":[
{"data":{"name":"pepper"},"width":401,"height":240,"title":"PSNR vs. Number of Epochs",
"mark":{"type":"line","strokeWidth":1.2,"clip":true},
"encoding":{
"x":{"field":"epoch","type":"quantitative","scale":{"domain":[-2000,41600],"nice":false,"zero":false},"axis":{"values":[0,5000,10000,15000,20000,25000,30000,35000,40000],"format":"d","title":"Number of Epochs"}},
"y":{"field":"psnr","type":"quantitative","scale":{"domain":[18,30],"nice":false,"zero":false},"axis":{"values":[18,20,22,24,26,28,30],"title":"PSNR"}},
"color":{"field":"method","type":"nominal","scale":{"domain":["Sparse-DIP","Deep Decoder","SGLD","Dense DIP","IMP"],"range":["#1f77b4","#ff7f0e","#2ca02c","#d62728","#9467bd"]},"legend":{"title":null}}}},
{"data":{"name":"baboon"},"width":401,"height":240,"title":"PSNR vs. Number of Epochs",
"mark":{"type":"line","strokeWidth":1.2,"clip":true},
"encoding":{
"x":{"field":"epoch","type":"quantitative","scale":{"domain":[-2000,41600],"nice":false,"zero":false},"axis":{"values":[0,5000,10000,15000,20000,25000,30000,35000,40000],"format":"d","title":"Number of Epochs"}},
"y":{"field":"psnr","type":"quantitative","scale":{"domain":[18,25],"nice":false,"zero":false},"axis":{"values":[18,19,20,21,22,23,24,25],"title":"PSNR"}},
"color":{"field":"method","type":"nominal","scale":{"domain":["Sparse-DIP","Deep Decoder","SGLD","Dense DIP","IMP"],"range":["#1f77b4","#ff7f0e","#2ca02c","#d62728","#9467bd"]},"legend":{"title":null}}}},
{"data":{"values":[{"caption":"(a) Pepper (Set-14 dataset)"}]},"width":401,"height":20,"view":{"stroke":null},
"mark":{"type":"text","font":"Liberation Serif","fontSize":25,"baseline":"middle","dy":5,"color":"black"},
"encoding":{"text":{"field":"caption","type":"nominal"}}},
{"data":{"values":[{"caption":"(b) Baboon (Set-14 dataset)"}]},"width":401,"height":20,"view":{"stroke":null},
"mark":{"type":"text","font":"Liberation Serif","fontSize":25,"baseline":"middle","dy":5,"color":"black"},
"encoding":{"text":{"field":"caption","type":"nominal"}}},
{"data":{"name":"face"},"width":401,"height":240,"title":{"text":"PSNR vs. Number of Epochs","offset":2},
"mark":{"type":"line","strokeWidth":1.2,"clip":true},
"encoding":{
"x":{"field":"epoch","type":"quantitative","scale":{"domain":[-2000,41600],"nice":false,"zero":false},"axis":{"values":[0,5000,10000,15000,20000,25000,30000,35000,40000],"format":"d","title":"Number of Epochs"}},
"y":{"field":"psnr","type":"quantitative","scale":{"domain":[18,33],"nice":false,"zero":false},"axis":{"values":[18,20,22,24,26,28,30,32],"title":"PSNR"}},
"color":{"field":"method","type":"nominal","scale":{"domain":["Sparse-DIP","Deep Decoder","SGLD","Dense DIP","IMP"],"range":["#1f77b4","#ff7f0e","#2ca02c","#d62728","#9467bd"]},"legend":{"title":null}}}},
{"data":{"name":"door"},"width":401,"height":240,"title":"PSNR vs. Number of Epochs",
"mark":{"type":"line","strokeWidth":1.2,"clip":true},
"encoding":{
"x":{"field":"epoch","type":"quantitative","scale":{"domain":[-2000,41600],"nice":false,"zero":false},"axis":{"values":[0,5000,10000,15000,20000,25000,30000,35000,40000],"format":"d","title":"Number of Epochs"}},
"y":{"field":"psnr","type":"quantitative","scale":{"domain":[12,30],"nice":false,"zero":false},"axis":{"values":[12,14,16,18,20,22,24,26,28,30],"title":"PSNR"}},
"color":{"field":"method","type":"nominal","scale":{"domain":["Sparse-DIP","Deep Decoder","SGLD","Dense DIP","IMP"],"range":["#1f77b4","#ff7f0e","#2ca02c","#d62728","#9467bd"]},"legend":{"title":null}}}},
{"data":{"values":[{"caption":"(c) Face-2 (Face dataset)"}]},"width":401,"height":20,"view":{"stroke":null},
"mark":{"type":"text","font":"Liberation Serif","fontSize":25,"baseline":"middle","dy":5,"color":"black"},
"encoding":{"text":{"field":"caption","type":"nominal"}}},
{"data":{"values":[{"caption":"(d) Door (Standard Dataset)"}]},"width":401,"height":20,"view":{"stroke":null},
"mark":{"type":"text","font":"Liberation Serif","fontSize":25,"baseline":"middle","dy":5,"color":"black"},
"encoding":{"text":{"field":"caption","type":"nominal"}}}
],
"config":{
"font":"DejaVu Sans",
"background":"white",
"view":{"stroke":"#222222","strokeWidth":1},
"axis":{"labelFont":"DejaVu Sans","titleFont":"DejaVu Sans","labelFontSize":8,"titleFontSize":10,"titleFontWeight":"normal","labelColor":"#222222","titleColor":"#222222","tickColor":"#222222","tickSize":3.5,"tickWidth":0.8,"domain":false,"gridColor":"#d0d0d0","gridWidth":1,"gridOpacity":1,"labelPadding":2,"labelFlush":false,"labelOverlap":false},
"axisX":{"titlePadding":2},
"axisY":{"titlePadding":4},
"title":{"font":"DejaVu Sans","fontSize":11.5,"fontWeight":"normal","color":"#111111","baseline":"alphabetic","offset":-2},
"legend":{"orient":"bottom-right","offset":4,"fillColor":"white","strokeColor":"#cccccc","cornerRadius":3,"padding":4,"symbolType":"stroke","symbolStrokeWidth":1.5,"symbolSize":120,"labelFont":"DejaVu Sans","labelFontSize":7,"labelColor":"#222222","rowPadding":0.5,"labelOffset":6}
}
}
